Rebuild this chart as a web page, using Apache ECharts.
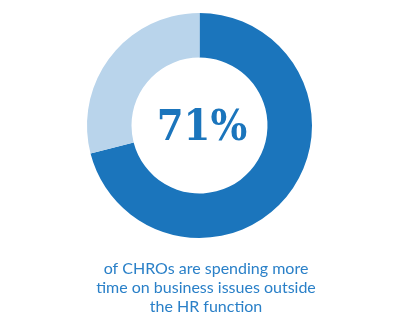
<!DOCTYPE html>
<html><head><meta charset="utf-8">
<script src="https://cdn.jsdelivr.net/npm/echarts@6/dist/echarts.min.js"></script>
<style>html,body{margin:0;padding:0;background:#fff}#c{width:395px;height:325px}</style>
</head><body><div id="c"></div>
<script>
const categories = ['Spending more time outside HR', 'Other'];
const values = [71, 29];
const centerLabel = '71%';
const caption = 'of CHROs are spending more\ntime on business issues outside\nthe HR function';

const chart = echarts.init(document.getElementById('c'), null, {renderer: 'canvas'});
chart.setOption({
  animation: false,
  title: [{
    text: centerLabel,
    left: 197, top: 124, textAlign: 'center', textVerticalAlign: 'middle',
    textStyle: {fontFamily: 'DejaVu Serif Condensed', fontWeight: 'bold', fontSize: 43, color: '#1b75bc'}
  }, {
    text: caption,
    left: 201, top: 254, textAlign: 'center',
    textStyle: {fontFamily: 'Lato', fontWeight: 'normal', fontSize: 16, lineHeight: 19, color: '#2a80c8'}
  }],
  series: [{
    type: 'pie',
    center: [199.5, 125.5],
    radius: [68, 112.5],
    startAngle: 90,
    clockwise: true,
    silent: true,
    label: {show: false},
    labelLine: {show: false},
    itemStyle: {borderWidth: 0},
    data: categories.map((c, i) => ({name: c, value: values[i], itemStyle: {color: i === 0 ? '#1b75bc' : '#b9d4eb'}}))
  }]
});
</script></body></html>
